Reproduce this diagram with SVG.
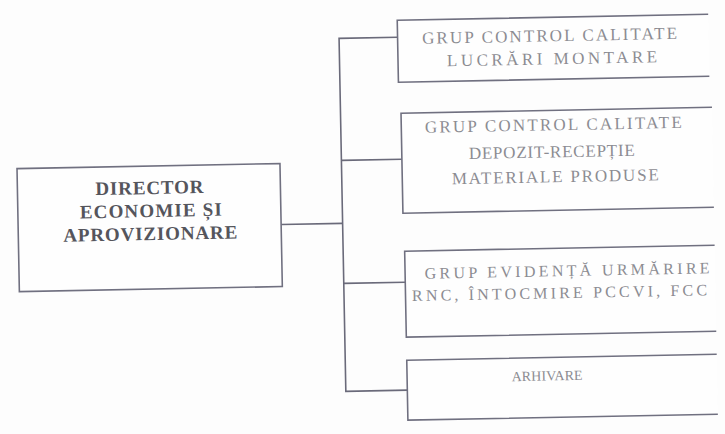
<svg xmlns="http://www.w3.org/2000/svg" width="725" height="434" viewBox="0 0 725 434">
<style>
.box{fill:#fefefe;stroke:#707080;stroke-width:1.6}
.bg{fill:#fefefe;stroke:none}
.edge{fill:none;stroke:#707080;stroke-width:1.6}
.conn{fill:none;stroke:#6a6a7a;stroke-width:1.6}
.dir{font-family:"Liberation Serif","Times New Roman",serif;font-weight:bold;font-size:19px;fill:#55555c;text-anchor:middle}
.sub{font-family:"Liberation Serif","Times New Roman",serif;font-size:17px;fill:#8c8c92;text-anchor:middle}
</style>
<rect width="725" height="434" fill="#fdfdfd"/>
<g transform="rotate(-1.1 362 217)">
<g id="connectors">
<path class="conn" d="M281 223 H342.5"/>
<path class="conn" d="M401 38 H342.5 V391 H404"/>
<path class="conn" d="M342.5 160 H403"/>
<path class="conn" d="M342.5 283 H404"/>
</g>
<g id="director">
<rect class="box" x="18" y="162" width="263" height="123"/>
<text class="dir" x="150" y="190" textLength="108" lengthAdjust="spacing">DIRECTOR</text>
<text class="dir" x="151" y="213" textLength="142" lengthAdjust="spacing">ECONOMIE ȘI</text>
<text class="dir" x="150" y="236" textLength="174" lengthAdjust="spacing">APROVIZIONARE</text>
</g>
<g id="grup-lucrari">
<rect class="bg" x="401" y="21" width="311" height="62"/>
<path class="edge" d="M712 21 H401 V83 H712"/>
<text class="sub" x="553" y="45" textLength="255" lengthAdjust="spacing">GRUP CONTROL CALITATE</text>
<text class="sub" x="555" y="68" textLength="210" lengthAdjust="spacing">LUCRĂRI MONTARE</text>
</g>
<g id="grup-depozit">
<rect class="bg" x="403" y="114" width="311" height="100"/>
<path class="edge" d="M714 114 H403 V214 H714"/>
<text class="sub" x="555" y="134" textLength="257" lengthAdjust="spacing">GRUP CONTROL CALITATE</text>
<text class="sub" x="553" y="161" textLength="166" lengthAdjust="spacing">DEPOZIT-RECEPȚIE</text>
<text class="sub" x="556" y="186" textLength="207" lengthAdjust="spacing">MATERIALE PRODUSE</text>
</g>
<g id="grup-evidenta">
<rect class="bg" x="404" y="252" width="310" height="86"/>
<path class="edge" d="M714 252 H404 V338 H714"/>
<text class="sub" x="566" y="280" textLength="285" lengthAdjust="spacing" style="font-size:16px">GRUP EVIDENȚĂ URMĂRIRE</text>
<text class="sub" x="558" y="302" textLength="295" lengthAdjust="spacing" style="font-size:16px">RNC, ÎNTOCMIRE PCCVI, FCC</text>
</g>
<g id="arhivare">
<rect class="bg" x="404" y="361" width="310" height="60"/>
<path class="edge" d="M714 361 H404 V421 H714"/>
<text class="sub" x="544" y="384" textLength="71" lengthAdjust="spacing" style="font-size:14px">ARHIVARE</text>
</g>
</g>
</svg>
